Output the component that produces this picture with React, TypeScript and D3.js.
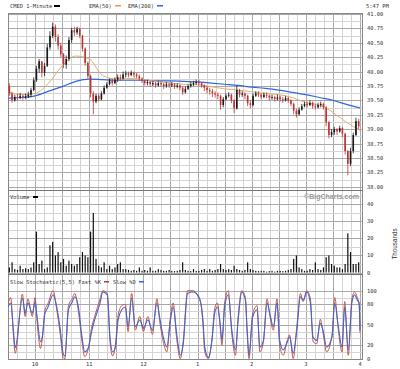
import React from "react";
import * as d3 from "d3";

// 3-minute bars (9:30 - 16:00)
const OPEN0 = 39.75;
const CLOSES = [
  39.62, 39.5, 39.56, 39.55, 39.58, 39.55, 39.57, 39.6, 39.68, 39.85,
  40.05, 40.18, 39.98, 40.1, 40.42, 40.62, 40.78, 40.6, 40.45, 40.3,
  40.12, 40.22, 40.55, 40.72, 40.68, 40.74, 40.62, 40.4, 40.15, 39.92,
  39.62, 39.48, 39.58, 39.52, 39.62, 39.72, 39.78, 39.85, 39.8, 39.86,
  39.9, 39.88, 39.95, 39.97, 39.94, 39.98, 39.95, 39.92, 39.88, 39.84,
  39.8, 39.82, 39.78, 39.8, 39.76, 39.8, 39.78, 39.75, 39.78, 39.76,
  39.78, 39.74, 39.76, 39.72, 39.64, 39.7, 39.75, 39.78, 39.8, 39.82,
  39.8, 39.76, 39.72, 39.68, 39.66, 39.62, 39.6, 39.58, 39.42, 39.52,
  39.58, 39.6, 39.5, 39.36, 39.68, 39.6, 39.62, 39.58, 39.45, 39.42,
  39.58, 39.62, 39.6, 39.56, 39.6, 39.58, 39.55, 39.56, 39.52, 39.55,
  39.52, 39.5, 39.54, 39.5, 39.44, 39.32, 39.26, 39.34, 39.4, 39.44,
  39.42, 39.46, 39.4, 39.38, 39.42, 39.44, 39.38, 39.12, 38.9, 38.95,
  39.0, 38.96, 39.02, 38.92, 38.62, 38.4, 38.62, 38.9, 39.14, 39.05,
];
const HIGHS = [
  39.8, 39.65, 39.6, 39.62, 39.63, 39.6, 39.62, 39.65, 39.72, 39.9,
  40.1, 40.22, 40.15, 40.15, 40.48, 40.7, 40.85, 40.82, 40.65, 40.5,
  40.32, 40.28, 40.6, 40.76, 40.78, 40.78, 40.76, 40.64, 40.42, 40.18,
  39.95, 39.66, 39.62, 39.62, 39.66, 39.76, 39.82, 39.88, 39.88, 39.9,
  39.95, 39.95, 40.0, 40.01, 40.0, 40.02, 40.0, 39.98, 39.95, 39.9,
  39.86, 39.86, 39.84, 39.84, 39.82, 39.84, 39.83, 39.8, 39.82, 39.81,
  39.82, 39.8, 39.8, 39.78, 39.74, 39.74, 39.78, 39.82, 39.84, 39.86,
  39.86, 39.82, 39.78, 39.75, 39.72, 39.7, 39.66, 39.64, 39.6, 39.56,
  39.62, 39.64, 39.62, 39.52, 39.76, 39.7, 39.66, 39.64, 39.6, 39.5,
  39.62, 39.66, 39.66, 39.62, 39.64, 39.64, 39.6, 39.6, 39.58, 39.6,
  39.58, 39.56, 39.58, 39.56, 39.52, 39.46, 39.36, 39.38, 39.44, 39.48,
  39.48, 39.5, 39.48, 39.44, 39.46, 39.48, 39.46, 39.4, 39.14, 39.0,
  39.04, 39.02, 39.06, 39.04, 38.94, 38.64, 38.68, 38.94, 39.2, 39.18,
];
const LOWS = [
  39.58, 39.46, 39.48, 39.5, 39.52, 39.51, 39.52, 39.54, 39.56, 39.66,
  39.82, 39.98, 39.9, 39.92, 40.08, 40.38, 40.58, 40.52, 40.38, 40.25,
  40.06, 40.05, 40.18, 40.5, 40.62, 40.64, 40.58, 40.35, 40.1, 39.88,
  39.55, 39.26, 39.45, 39.48, 39.5, 39.6, 39.7, 39.76, 39.76, 39.78,
  39.82, 39.84, 39.86, 39.9, 39.9, 39.92, 39.9, 39.88, 39.84, 39.8,
  39.76, 39.76, 39.74, 39.75, 39.72, 39.74, 39.74, 39.7, 39.72, 39.72,
  39.73, 39.7, 39.71, 39.68, 39.6, 39.62, 39.68, 39.72, 39.75, 39.77,
  39.76, 39.72, 39.66, 39.62, 39.6, 39.56, 39.55, 39.52, 39.34, 39.38,
  39.5, 39.55, 39.45, 39.28, 39.34, 39.55, 39.56, 39.52, 39.4, 39.36,
  39.4, 39.56, 39.56, 39.52, 39.54, 39.54, 39.5, 39.51, 39.48, 39.5,
  39.48, 39.46, 39.48, 39.46, 39.4, 39.26, 39.2, 39.24, 39.32, 39.38,
  39.38, 39.4, 39.36, 39.34, 39.36, 39.38, 39.34, 39.05, 38.84, 38.86,
  38.9, 38.9, 38.94, 38.86, 38.56, 38.2, 38.36, 38.58, 38.88, 39.0,
];
// thousands of shares per bar
const VOLUMES = [
  3, 6, 2, 1.5, 4, 2, 2.5, 2, 3, 6,
  24, 5, 7, 2, 3, 16, 18, 10, 12, 6,
  8, 4, 7, 5, 4, 5, 9, 12, 10, 9,
  24, 35, 8, 4, 3, 6, 2, 4, 2, 3,
  5, 6, 2, 2, 1.5, 1, 1.5, 1, 3, 1,
  1.5, 1, 3, 1, 1, 2, 1.5, 1, 1, 1.5,
  1, 0.8, 1, 1.5, 6, 1.5, 1, 0.8, 2, 1,
  1, 1.5, 2, 1, 2, 1, 1.5, 2, 5, 2,
  1.5, 2, 1.5, 4, 2, 1.5, 1, 1.5, 6, 2,
  1.5, 1, 0.8, 1, 1, 0.5, 0.8, 1, 0.5, 1,
  1, 0.8, 1, 1.5, 2, 8, 10, 3, 2, 1,
  1, 2, 1.5, 6, 2, 1.5, 3, 9, 10, 5,
  4, 3, 3, 2, 5, 23, 12, 5, 5, 6,
];

// moving averages sampled every 15 minutes
const EMA_MINUTES = [0, 15, 30, 45, 60, 75, 90, 105, 120, 135, 150, 165, 180, 195, 210, 225, 240, 255, 270, 285, 300, 315, 330, 345, 360, 375, 390];
const EMA50 = [39.65, 39.6, 39.62, 39.8, 40.1, 40.27, 40.22, 39.93, 39.87, 39.88, 39.86, 39.83, 39.8, 39.78, 39.77, 39.74, 39.7, 39.68, 39.65, 39.62, 39.6, 39.55, 39.46, 39.42, 39.29, 39.12, 38.98];
const EMA200 = [39.54, 39.55, 39.58, 39.66, 39.74, 39.83, 39.87, 39.86, 39.85, 39.85, 39.85, 39.84, 39.84, 39.83, 39.82, 39.8, 39.78, 39.76, 39.73, 39.71, 39.68, 39.64, 39.6, 39.55, 39.5, 39.43, 39.37];

// slow stochastic (5,5)
const STOCH_MINUTES = [0, 3, 6, 8, 16, 19, 22, 27, 30, 32, 36, 38, 41, 44, 50, 54, 58, 61, 63, 67, 71, 74, 78, 82, 85, 89, 93, 96, 102, 105, 110, 113, 116, 119, 122, 126, 130, 133, 137, 141, 146, 150, 155, 160, 165, 168, 172, 176, 180, 183, 187, 191, 194, 199, 205, 211, 214, 216, 218, 222, 226, 229, 232, 235, 237, 240, 244, 248, 252, 255, 259, 263, 265, 267, 271, 276, 279, 283, 287, 290, 294, 298, 301, 305, 309, 312, 316, 320, 324, 327, 331, 335, 338, 342, 346, 349, 353, 359, 362, 366, 370, 373, 377, 381, 384, 387, 389, 390];
const SLOW_D = [76, 82, 42, 16, 89, 67, 82, 67, 83, 64, 25, 32, 67, 75, 94, 76, 42, 8, 4, 72, 83, 91, 76, 32, 10, 16, 42, 57, 82, 98, 94, 32, 10, 17, 57, 72, 76, 47, 89, 47, 57, 45, 57, 42, 82, 61, 32, 17, 57, 76, 35, 5, 20, 96, 98, 92, 80, 57, 17, 2, 27, 67, 76, 52, 27, 76, 94, 42, 13, 57, 98, 86, 42, 5, 61, 72, 17, 27, 82, 67, 47, 82, 27, 13, 23, 32, 8, 42, 91, 86, 98, 82, 32, 27, 52, 42, 17, 32, 82, 47, 17, 76, 13, 82, 94, 86, 82, 42];
const FAST_K = [80, 90, 35, 8, 95, 62, 88, 62, 90, 58, 15, 30, 72, 80, 100, 72, 35, 2, 0, 78, 88, 96, 70, 25, 3, 15, 48, 62, 88, 100, 96, 25, 4, 20, 64, 78, 80, 40, 96, 42, 62, 40, 62, 36, 88, 56, 25, 10, 62, 82, 28, 0, 24, 100, 100, 90, 78, 50, 10, 0, 30, 74, 82, 48, 20, 82, 100, 36, 5, 62, 100, 90, 36, 0, 66, 78, 10, 25, 88, 64, 42, 88, 20, 5, 25, 35, 0, 48, 96, 84, 100, 88, 25, 22, 58, 38, 10, 35, 90, 42, 10, 84, 5, 88, 98, 90, 80, 38];

const HOUR_TICKS = [30, 90, 150, 210, 270, 330, 390];
const HOUR_LABELS = ["10", "11", "12", "1", "2", "3", "4"];
const PRICE_TICKS = [41, 40.75, 40.5, 40.25, 40, 39.75, 39.5, 39.25, 39, 38.75, 38.5, 38.25, 38];
const VOLUME_TICKS = [40, 30, 20, 10, 0];
const STOCH_TICKS = [100, 80, 50, 20, 0];

const W = 400;
const H = 369;
const L = 8;
const R = 363;
const FONT = "'DejaVu Sans Mono', 'Liberation Mono', monospace";
const UP = "#1a1a1a";
const DOWN = "#c03333";
const MINOR = "#d4d4d4";
const MAJOR = "#a8a8a8";

const P_TOP = 13;
const P_BOT = 190;
const V_TOP = 190;
const V_BOT = 274;
const S_TOP = 274;
const S_BOT = 360;

export default function App() {
  const x = d3.scaleLinear().domain([0, 393.3]).range([L, R]);
  const yP = d3.scaleLinear().domain([41 - 176 / 57.6, 41 + 1 / 57.6]).range([P_BOT, P_TOP]);
  const yV = d3.scaleLinear().domain([0, 48.5]).range([272.5, V_TOP]);
  const yS = d3.scaleLinear().domain([0, 100]).range([358.7, 290.7]);

  const bars = CLOSES.map((c, i) => ({
    t: i * 3 + 1.5,
    open: i === 0 ? OPEN0 : CLOSES[i - 1],
    close: c,
    high: HIGHS[i],
    low: LOWS[i],
    vol: VOLUMES[i],
  }));

  const vMinutes = d3.range(0, 391, 10);
  const priceGrid = d3.range(38, 41.001, 0.125);
  const volGrid = d3.range(0, 46, 5);
  const stochGrid = d3.range(0, 101, 10);

  const emaLine = d3
    .line<number>()
    .x((_, i) => x(EMA_MINUTES[i]))
    .y((d) => yP(d))
    .curve(d3.curveMonotoneX);
  const stochLine = d3
    .line<number>()
    .x((_, i) => x(STOCH_MINUTES[i]))
    .y((d) => yS(d))
    .curve(d3.curveMonotoneX);

  const vGrid = (top: number, bot: number) =>
    vMinutes.map((m) => (
      <line
        key={"v" + m}
        x1={Math.round(x(m)) + 0.5}
        x2={Math.round(x(m)) + 0.5}
        y1={top}
        y2={bot}
        stroke={m % 30 === 0 ? MAJOR : MINOR}
        strokeWidth={1}
      />
    ));

  const hLine = (y: number, major: boolean, key: string) => (
    <line key={key} x1={L} x2={R} y1={Math.round(y) + 0.5} y2={Math.round(y) + 0.5} stroke={major ? MAJOR : MINOR} />
  );

  // small monospaced face, close to the tiny bitmap font of the original
  const txt = { fontFamily: FONT, fontSize: 5.4, fill: "#333" } as const;

  return (
    <svg width={W} height={H} style={{ position: "absolute", left: 0, top: 0, background: "#fff" }}>
      <defs>
        <clipPath id="cp">
          <rect x={L} y={P_TOP} width={R - L} height={P_BOT - P_TOP} />
        </clipPath>
        <clipPath id="cs">
          <rect x={L} y={S_TOP} width={R - L} height={S_BOT - S_TOP} />
        </clipPath>
      </defs>
      <rect x={0} y={0} width={W} height={H} fill="#fff" />

      {/* grids */}
      {vGrid(P_TOP, P_BOT)}
      {priceGrid.map((p) => hLine(yP(p), Math.abs((p * 4) % 1) < 1e-6, "p" + p))}
      {vGrid(V_TOP, V_BOT)}
      {volGrid.map((v) => hLine(yV(v), v % 10 === 0, "vv" + v))}
      {vGrid(S_TOP, S_BOT)}
      {stochGrid.map((v) => hLine(yS(v), [0, 20, 50, 80, 100].includes(v), "s" + v))}

      {/* panel frames */}
      <rect x={L + 0.5} y={P_TOP + 0.5} width={R - L - 1} height={S_BOT - P_TOP - 1} fill="none" stroke="#888" />
      <line x1={L} x2={R} y1={V_TOP + 0.5} y2={V_TOP + 0.5} stroke="#777" />
      <line x1={L} x2={R} y1={S_TOP + 0.5} y2={S_TOP + 0.5} stroke="#777" />

      {/* price */}
      <g clipPath="url(#cp)">
        <path d={emaLine(EMA200) || ""} fill="none" stroke="#3366dd" strokeWidth={1.2} />
        <path d={emaLine(EMA50) || ""} fill="none" stroke="#e0b070" strokeWidth={1} />
        {bars.map((b, i) => {
          const col = b.close >= b.open ? UP : DOWN;
          const cx = x(b.t);
          const top = yP(Math.max(b.open, b.close));
          const bot = yP(Math.min(b.open, b.close));
          return (
            <g key={i}>
              <line x1={cx} x2={cx} y1={yP(b.high)} y2={yP(b.low)} stroke={col} strokeWidth={0.8} />
              <rect x={cx - 0.8} y={top} width={1.6} height={Math.max(1, bot - top)} fill={col} />
            </g>
          );
        })}
      </g>
      <text x={304} y={199} fontFamily="'Liberation Sans', Arial, sans-serif" fontSize={7} fontWeight="bold" fill="#999">
        ©BigCharts.com
      </text>

      {/* volume */}
      {bars.map((b, i) => (
        <rect key={"vol" + i} x={x(b.t) - 0.6} y={yV(b.vol)} width={1.2} height={yV(0) - yV(b.vol)} fill="#111" />
      ))}

      {/* stochastic */}
      <g clipPath="url(#cs)">
        <path d={stochLine(FAST_K) || ""} fill="none" stroke="#cc5544" strokeWidth={1} />
        <path d={stochLine(SLOW_D) || ""} fill="none" stroke="#4466cc" strokeWidth={1.1} />
      </g>

      {/* legends */}
      <text x={10} y={8} {...txt}>CMED 1-Minute</text>
      <rect x={54} y={5} width={6} height={2} fill="#000" />
      <text x={89} y={8} {...txt}>EMA(50)</text>
      <rect x={115} y={5} width={6} height={1.5} fill="#e0a040" />
      <text x={128} y={8} {...txt}>EMA(200)</text>
      <rect x={157} y={5} width={6} height={1.5} fill="#3366dd" />
      <text x={366} y={8} {...txt}>5:47 PM</text>

      <text x={10} y={199} {...txt}>Volume</text>
      <rect x={33} y={196} width={5} height={2} fill="#000" />

      <text x={10} y={284} {...txt}>Slow Stochastic(5,5) Fast %K</text>
      <rect x={104} y={281} width={5} height={1.5} fill={DOWN} />
      <text x={113} y={284} {...txt}>Slow %D</text>
      <rect x={139} y={281} width={5} height={1.5} fill="#3366dd" />

      {/* axes labels */}
      {PRICE_TICKS.map((p) => (
        <text key={"pt" + p} x={367} y={yP(p) + 2} {...txt}>
          {p.toFixed(2)}
        </text>
      ))}
      {VOLUME_TICKS.map((v) => (
        <text key={"vt" + v} x={367} y={yV(v) + 2} {...txt}>
          {v}
        </text>
      ))}
      <text transform="translate(397,244) rotate(-90)" textAnchor="middle" fontFamily="'Liberation Sans', Arial, sans-serif" fontSize={6.3} fill="#333">
        Thousands
      </text>
      {STOCH_TICKS.map((v) => (
        <text key={"st" + v} x={367} y={yS(v) + 2} {...txt}>
          {v}
        </text>
      ))}
      {HOUR_TICKS.map((m, i) => (
        <text key={"h" + m} x={x(m)} y={366} textAnchor="middle" {...txt}>
          {HOUR_LABELS[i]}
        </text>
      ))}
    </svg>
  );
}
